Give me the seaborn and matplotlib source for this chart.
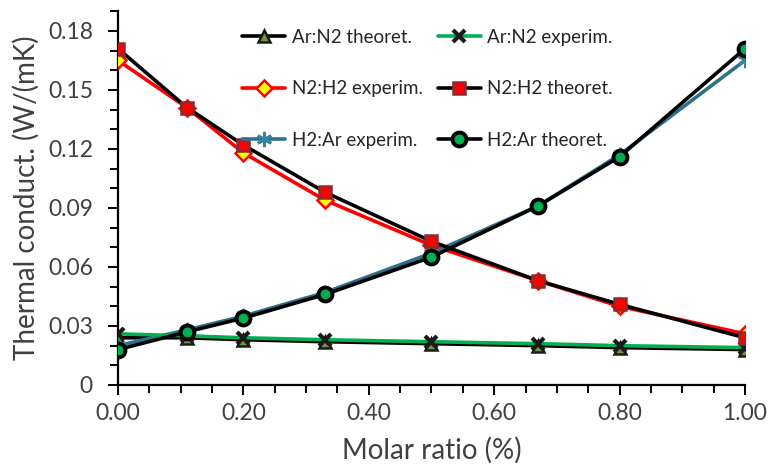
import matplotlib
matplotlib.use("Agg")
import matplotlib.pyplot as plt
import seaborn as sns
import pandas as pd
from matplotlib.ticker import MultipleLocator, FuncFormatter

# ---- data ----
molar_ratio = [0.0, 0.11, 0.20, 0.33, 0.50, 0.67, 0.80, 1.00]
arn2_theo = [0.024, 0.024, 0.023, 0.022, 0.021, 0.020, 0.019, 0.018]
arn2_exp = [0.026, 0.025, 0.024, 0.023, 0.022, 0.021, 0.020, 0.019]
n2h2_exp = [0.165, 0.141, 0.118, 0.094, 0.071, 0.053, 0.040, 0.026]
n2h2_theo = [0.171, 0.141, 0.122, 0.098, 0.073, 0.053, 0.041, 0.024]
h2ar_exp = [0.020, 0.028, 0.035, 0.047, 0.067, 0.091, 0.117, 0.165]
h2ar_theo = [0.018, 0.027, 0.034, 0.046, 0.065, 0.091, 0.116, 0.171]
x_ticks = [0.0, 0.2, 0.4, 0.6, 0.8, 1.0]
y_ticks = [0.0, 0.03, 0.06, 0.09, 0.12, 0.15, 0.18]

sns.set_style("white")
plt.rcParams['font.family'] = ['Lato', 'DejaVu Sans']

fig = plt.figure(figsize=(7.72, 4.67), dpi=100)
ax = fig.add_axes([0.1528, 0.1756, 0.8122, 0.8004])

series = [
    # label, data, line color, marker, face, edge, ms, mew, zorder
    ("Ar:N2 theoret.", arn2_theo, "black", "^", "#76923C", "#1a1a1a", 9, 1.8, 3),
    ("N2:H2 experim.", n2h2_exp, "#FF0000", "D", "#FFFF00", "#FF0000", 8, 1.8, 3),
    ("H2:Ar experim.", h2ar_exp, "#2E6F8A", (6, 2, 0), "#31859C", "#31859C", 11, 2.0, 3),
    ("Ar:N2 experim.", arn2_exp, "#00B050", "x", "black", "#1a1a1a", 8, 3.0, 4),
    ("N2:H2 theoret.", n2h2_theo, "black", "s", "#FF0000", "#8B2B2B", 9, 1.8, 4),
    ("H2:Ar theoret.", h2ar_theo, "black", "o", "#00B050", "black", 10, 2.8, 4),
]

for label, vals, lc, mk, fc, ec, ms, mew, z in series:
    df = pd.DataFrame({"x": molar_ratio, "y": vals})
    sns.lineplot(data=df, x="x", y="y", ax=ax, color=lc, lw=2.6, marker=mk,
                 markersize=ms, markerfacecolor=fc, markeredgecolor=ec,
                 markeredgewidth=mew, label=label, zorder=z)

ax.set_xlim(0, 1.0)
ax.set_ylim(0, 0.19)
ax.set_xticks(x_ticks)
ax.set_yticks(y_ticks)
ax.xaxis.set_minor_locator(MultipleLocator(0.05))
ax.yaxis.set_minor_locator(MultipleLocator(0.01))
ax.xaxis.set_major_formatter(FuncFormatter(lambda v, p: f"{v:.2f}"))
ax.yaxis.set_major_formatter(FuncFormatter(lambda v, p: "0" if abs(v) < 1e-9 else f"{v:.2f}"))

for s in ["top", "right"]:
    ax.spines[s].set_visible(False)
for s in ["left", "bottom"]:
    ax.spines[s].set_color("black")
    ax.spines[s].set_linewidth(1.6)

ax.tick_params(axis="both", which="both", direction="out", color="black", width=1.4,
               labelsize=16.5, labelcolor="#404040")
ax.tick_params(axis="x", which="both", bottom=True)
ax.tick_params(axis="y", which="both", left=True)
ax.tick_params(axis="x", which="major", length=7, pad=6)
ax.tick_params(axis="y", which="major", length=7, pad=11)
ax.tick_params(axis="both", which="minor", length=6)

ax.set_xlabel("Molar ratio (%)", fontsize=20, color="#404040", labelpad=9)
ax.set_ylabel("Thermal conduct. (W/(mK)", fontsize=20, color="#404040", labelpad=6)

ax.legend(ncol=2, loc="upper left", bbox_to_anchor=(0.304, 0.955), bbox_transform=fig.transFigure,
          frameon=False, fontsize=13.5, handlelength=2.3, handletextpad=0.35,
          columnspacing=0.8, labelspacing=1.85, borderaxespad=0)

fig.savefig("out.png", dpi=100)
